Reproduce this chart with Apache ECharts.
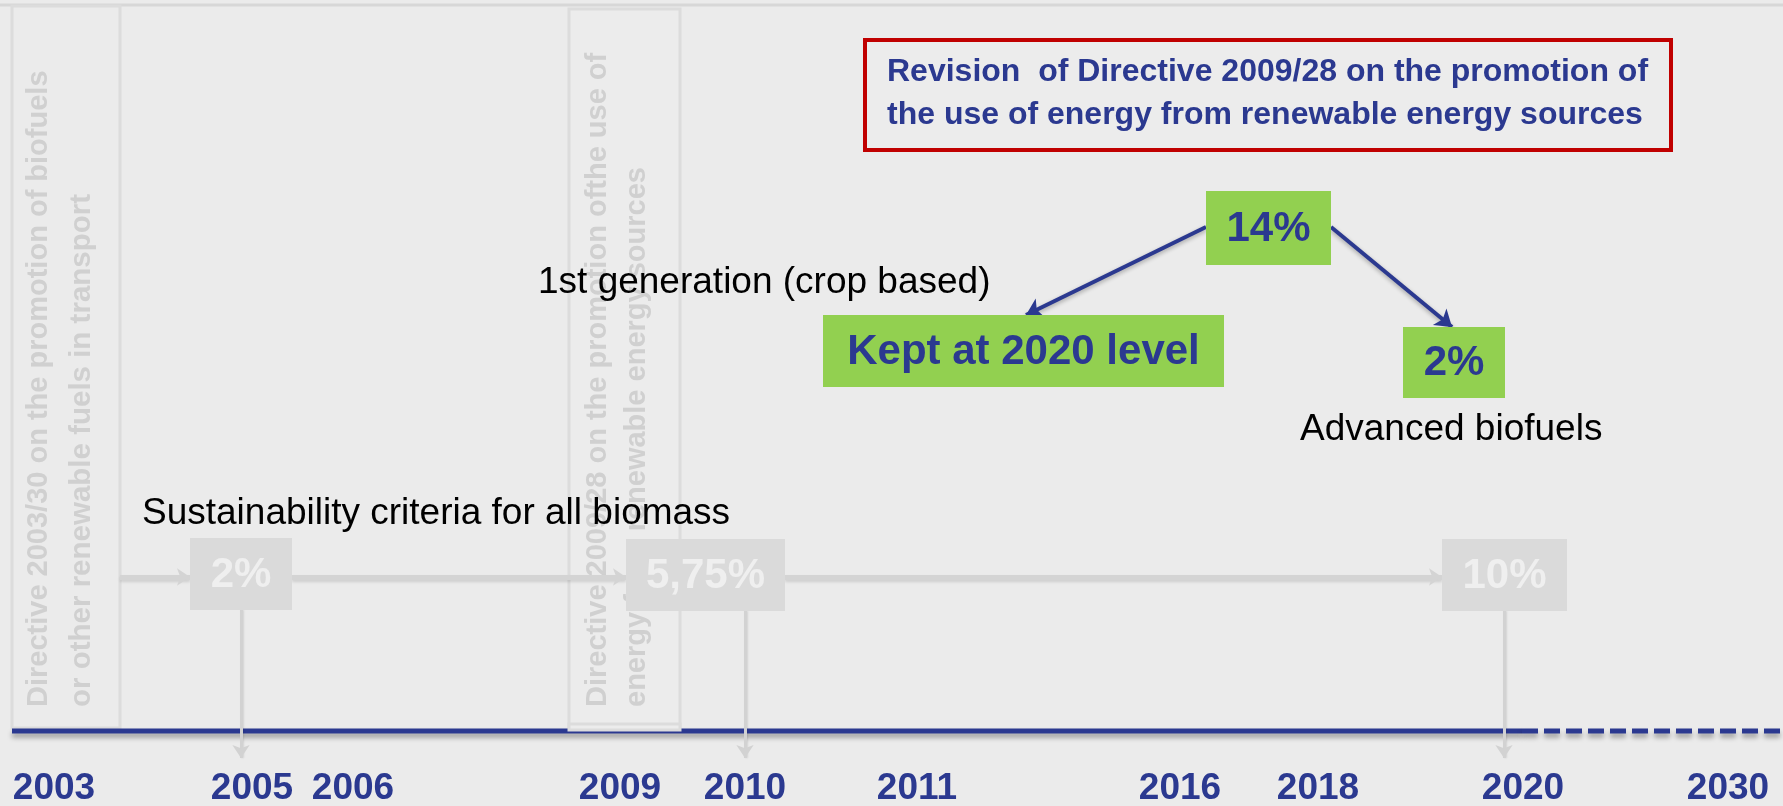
<!DOCTYPE html>
<html>
<head>
<meta charset="utf-8">
<title>Biofuels directives timeline</title>
<script src="https://cdn.jsdelivr.net/npm/echarts@6/dist/echarts.min.js"></script>
<style>
  html, body { margin: 0; padding: 0; background: #ebebeb; }
  #main { width: 1783px; height: 806px; }
</style>
</head>
<body>
<div id="main"></div>
<script>
// ---- data ----
var years = ['2003', '2005', '2006', '2009', '2010', '2011', '2016', '2018', '2020', '2030'];
var oldTargets = ['2%', '5,75%', '10%'];                   // 2003/30 + 2009/28 targets (faded)
var newTargets = ['14%', 'Kept at 2020 level', '2%'];     // revision proposal
var notes = ['Sustainability criteria for all biomass', '1st generation (crop based)', 'Advanced biofuels'];
var directives = [
  ['Directive 2003/30 on the promotion of biofuels', 'or other renewable fuels in transport'],
  ['Directive 2009/28 on the promotion ofthe use of', 'energy from renewable energy sources']
];
var revision = ['Revision  of Directive 2009/28 on the promotion of', 'the use of energy from renewable energy sources'];

// ---- layout (axis units = slide pixels) ----
var yearX = [54, 252, 353, 620, 745, 917, 1180, 1318, 1523, 1728];
var yearY = 789;
var timelineY = 731;
var timelineStart = 12;
var dashFrom = 1522;
var dirBox = [[12, 6, 120, 728], [569, 9, 680, 730]];
var dirTextX = [[39, 82], [598, 637]];
var dirFont = [[29, 29.5], [29, 29]];
var dirTextBottom = 707;
var oldBox = [[190, 538, 292, 610], [626, 539, 785, 611], [1442, 539, 1567, 611]];
var oldArrowX = [241, 745, 1504];
var flowY = 577;
var arrowTipY = 758;
var newBox = [[1206, 191, 1331, 265], [823, 315, 1224, 387], [1403, 327, 1505, 398]];
var notePos = [[142, 514], [538, 283], [1300, 430]];
var revBox = [865, 40, 1671, 150];
var revLineY = [72, 115];

var NAVY = '#2b3990';
var FONT = '"Liberation Sans", Arial, sans-serif';

function rectOf(api, b) {
  var p0 = api.coord([b[0], b[1]]);
  var p1 = api.coord([b[2], b[3]]);
  return { x: p0[0], y: p0[1], width: p1[0] - p0[0], height: p1[1] - p0[1] };
}
function textAt(api, x, y, text, font, color, align, rot) {
  var p = api.coord([x, y]);
  return {
    type: 'text', x: p[0], y: p[1], rotation: rot || 0,
    style: {
      text: text, font: font, fill: color,
      textAlign: align || 'center', align: align || 'center',
      textVerticalAlign: 'middle', verticalAlign: 'middle'
    }
  };
}

// gray flow arrows (old directives)
var flowLines = [];
flowLines.push({ coords: [[dirBox[0][2], flowY], [oldBox[0][0], flowY]] });
for (var i = 0; i < oldBox.length - 1; i++) {
  flowLines.push({ coords: [[oldBox[i][2], flowY], [oldBox[i + 1][0], flowY]] });
}
var downLines = oldBox.map(function (b, i) {
  return { coords: [[oldArrowX[i], b[3]], [oldArrowX[i], arrowTipY]] };
});
// navy arrows from 14%
var splitLines = [
  { coords: [[newBox[0][0], 227], [1026, newBox[1][1]]] },
  { coords: [[newBox[0][2], 227], [1452, newBox[2][1]]] }
];

var myChart = echarts.init(document.getElementById('main'));
var option = {
  backgroundColor: '#ebebeb',
  animation: false,
  grid: { left: 0, right: 0, top: 0, bottom: 0 },
  xAxis: { type: 'value', min: 0, max: 1783, show: false },
  yAxis: { type: 'value', min: 0, max: 806, inverse: true, show: false },
  series: [
    {
      // top rule
      type: 'line', symbol: 'none', silent: true, z: 1,
      data: [[0, 5], [1783, 5]],
      lineStyle: { color: '#d7d7d7', width: 3 }
    },
    {
      // directive frames + vertical titles
      type: 'custom', z: 2,
      data: directives.map(function (d, i) { return [i, 0]; }),
      renderItem: function (params, api) {
        var i = params.dataIndex;
        var kids = [{
          type: 'rect', shape: rectOf(api, dirBox[i]),
          style: { fill: i === 1 ? '#ececec' : null, stroke: '#dcdcdc', lineWidth: 3 }
        }];
        directives[i].forEach(function (line, k) {
          kids.push(textAt(api, dirTextX[i][k], dirTextBottom, line,
            'bold ' + dirFont[i][k] + 'px ' + FONT, '#d0d0d0', 'left', Math.PI / 2));
        });
        return { type: 'group', children: kids };
      }
    },
    {
      // timeline solid
      type: 'line', symbol: 'none', z: 3,
      data: [[timelineStart, timelineY], [dashFrom, timelineY]],
      lineStyle: { color: NAVY, width: 5, shadowColor: 'rgba(0,0,0,0.35)', shadowBlur: 5, shadowOffsetY: 4 }
    },
    {
      // timeline dashed (after 2020)
      type: 'line', symbol: 'none', z: 3,
      data: [[dashFrom, timelineY], [1783, timelineY]],
      lineStyle: { color: NAVY, width: 5, type: [16, 6], shadowColor: 'rgba(0,0,0,0.35)', shadowBlur: 5, shadowOffsetY: 4 }
    },
    {
      // directive 2 frame sits over the timeline
      type: 'custom', z: 4,
      data: [[0, 0]],
      renderItem: function (params, api) {
        var b = dirBox[1];
        var r = rectOf(api, [b[0], b[3] - 6, b[2], b[3]]);
        return { type: 'rect', shape: r, style: { fill: '#ececec', stroke: '#dcdcdc', lineWidth: 3 } };
      }
    },
    {
      type: 'lines', coordinateSystem: 'cartesian2d', z: 5,
      symbol: ['none', 'arrow'], symbolSize: 13,
      data: flowLines,
      lineStyle: { color: '#d4d4d4', width: 5, opacity: 1, curveness: 0,
        shadowColor: 'rgba(0,0,0,0.12)', shadowBlur: 3, shadowOffsetY: 2 }
    },
    {
      type: 'lines', coordinateSystem: 'cartesian2d', z: 5,
      symbol: ['none', 'arrow'], symbolSize: 13,
      data: downLines,
      lineStyle: { color: '#d2d2d2', width: 3, opacity: 1, curveness: 0,
        shadowColor: 'rgba(0,0,0,0.1)', shadowBlur: 2, shadowOffsetX: 1 }
    },
    {
      // faded targets of the old directives
      type: 'custom', z: 6,
      data: oldTargets.map(function (t, i) { return [i, 0]; }),
      renderItem: function (params, api) {
        var i = params.dataIndex, b = oldBox[i];
        return {
          type: 'group', children: [
            { type: 'rect', shape: rectOf(api, b), style: { fill: '#dadada' } },
            textAt(api, (b[0] + b[2]) / 2, (b[1] + b[3]) / 2 + 1, oldTargets[i], 'bold 42px ' + FONT, '#efefef')
          ]
        };
      }
    },
    {
      // revision box
      type: 'custom', z: 6,
      data: [[0, 0]],
      renderItem: function (params, api) {
        var kids = [{ type: 'rect', shape: rectOf(api, revBox), style: { fill: '#ececec', stroke: '#c00000', lineWidth: 4 } }];
        revision.forEach(function (line, k) {
          kids.push(textAt(api, revBox[0] + 22, revLineY[k], line, 'bold 32px ' + FONT, NAVY, 'left'));
        });
        return { type: 'group', children: kids };
      }
    },
    {
      type: 'lines', coordinateSystem: 'cartesian2d', z: 7,
      symbol: ['none', 'arrow'], symbolSize: 16,
      data: splitLines,
      lineStyle: { color: NAVY, width: 4, opacity: 1, curveness: 0,
        shadowColor: 'rgba(0,0,0,0.3)', shadowBlur: 4, shadowOffsetY: 2 }
    },
    {
      // new targets (green)
      type: 'custom', z: 8,
      data: newTargets.map(function (t, i) { return [i, 0]; }),
      renderItem: function (params, api) {
        var i = params.dataIndex, b = newBox[i];
        return {
          type: 'group', children: [
            { type: 'rect', shape: rectOf(api, b), style: { fill: '#92d050' } },
            textAt(api, (b[0] + b[2]) / 2, (b[1] + b[3]) / 2 + 1, newTargets[i], 'bold 42px ' + FONT, NAVY)
          ]
        };
      }
    },
    {
      // notes
      type: 'custom', z: 8,
      data: notes.map(function (t, i) { return [i, 0]; }),
      renderItem: function (params, api) {
        var i = params.dataIndex;
        return textAt(api, notePos[i][0], notePos[i][1], notes[i], '37px ' + FONT, '#000000', 'left');
      }
    },
    {
      // year labels
      type: 'custom', z: 8,
      data: years.map(function (y, i) { return [i, 0]; }),
      renderItem: function (params, api) {
        var i = params.dataIndex;
        return textAt(api, yearX[i], yearY, years[i], 'bold 37px ' + FONT, NAVY);
      }
    }
  ]
};
myChart.setOption(option);
</script>
</body>
</html>
